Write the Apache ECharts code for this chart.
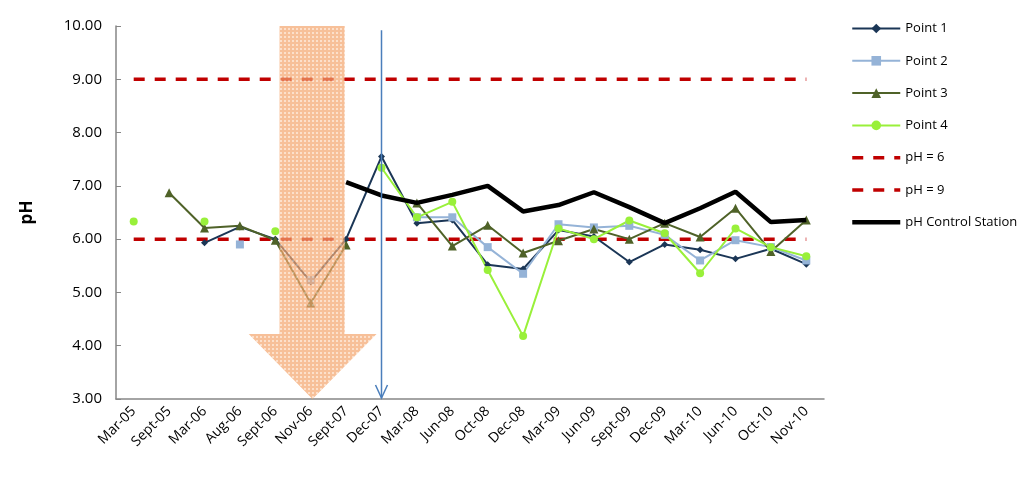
<!DOCTYPE html>
<html>
<head>
<meta charset="utf-8">
<script src="https://cdn.jsdelivr.net/npm/echarts@6/dist/echarts.min.js"></script>
<style>
  html, body {margin: 0; padding: 0; background: #fff;}
  #chart {width: 1024px; height: 478px;}
</style>
</head>
<body>
<div id="chart"></div>
<script>
const categories = ['Mar-05', 'Sept-05', 'Mar-06', 'Aug-06', 'Sept-06', 'Nov-06', 'Sept-07', 'Dec-07',
  'Mar-08', 'Jun-08', 'Oct-08', 'Dec-08', 'Mar-09', 'Jun-09', 'Sept-09', 'Dec-09', 'Mar-10', 'Jun-10',
  'Oct-10', 'Nov-10']

const point1 = [null, null, 5.93, 6.23, 6.0, 5.2, 6.0, 7.55, 6.3, 6.36, 5.52, 5.44, 6.17, 6.05, 5.57, 5.9, 5.8, 5.63, 5.82, 5.53]
const point2 = [null, null, null, 5.9, null, 5.23, null, null, 6.41, 6.41, 5.85, 5.35, 6.28, 6.22, 6.25, 6.08, 5.6, 5.98, 5.85, 5.6]
const point3 = [null, 6.87, 6.21, 6.25, 5.98, 4.8, 5.89, null, 6.68, 5.87, 6.26, 5.74, 5.97, 6.19, 6.0, 6.3, 6.04, 6.58, 5.77, 6.36]
const point4 = [6.33, null, 6.33, null, 6.15, null, null, 7.34, 6.41, 6.7, 5.42, 4.18, 6.2, 6.0, 6.35, 6.11, 5.36, 6.2, 5.85, 5.68]
const control = [null, null, null, null, null, null, 7.07, 6.82, 6.68, 6.83, 7.0, 6.52, 6.64, 6.88, 6.6, 6.3, 6.58, 6.89, 6.32, 6.36]
const limitLow = categories.map(() => 6)
const limitHigh = categories.map(() => 9)

const font = '"Open Sans", "Noto Sans", sans-serif'

const pointSeries = (name, data, color, symbol, size) => ({
  name, type: 'line', data, symbol, symbolSize: size, showAllSymbol: true,
  connectNulls: false, z: 3,
  itemStyle: {color},
  lineStyle: {color, width: 2}
})

const plainSeries = (name, data, color, width, type, z) => ({
  name, type: 'line', data, symbol: 'circle', symbolSize: 0, showSymbol: false, z,
  itemStyle: {color, opacity: 0},
  lineStyle: {color, width, type}
})

const legendNames = ['Point 1', 'Point 2', 'Point 3', 'Point 4', 'pH = 6', 'pH = 9', 'pH Control Station']
const legendWidths = [2, 2, 2, 2, 3.5, 3.5, 4.5]

const chart = echarts.init(document.getElementById('chart'))
chart.setOption({
  animation: false,
  textStyle: {fontFamily: font},
  grid: {left: 116, right: 200, top: 26, bottom: 79},
  legend: {
    orient: 'vertical', left: 845, top: 17,
    itemWidth: 48, itemHeight: 12, itemGap: 19.3,
    textStyle: {fontSize: 13, color: '#000', fontFamily: font},
    data: legendNames.map((name, i) => i < 4 ? name
      : {name, itemStyle: {opacity: 0}, lineStyle: {width: legendWidths[i]}})
  },
  xAxis: {
    type: 'category', data: categories, boundaryGap: true,
    axisLine: {lineStyle: {color: '#868686', width: 1.5}},
    axisTick: {inside: true, length: 5, lineStyle: {color: '#868686'}},
    axisLabel: {rotate: 45, fontSize: 14, color: '#000', margin: 10, interval: 0}
  },
  yAxis: {
    type: 'value', min: 3, max: 10, interval: 1,
    name: 'pH', nameLocation: 'middle', nameGap: 80, nameRotate: 90,
    nameTextStyle: {fontSize: 17, fontWeight: 'bold', color: '#000'},
    splitLine: {show: false},
    axisLine: {show: true, lineStyle: {color: '#868686', width: 1.5}},
    axisTick: {show: true, inside: true, length: 5, lineStyle: {color: '#868686'}},
    axisLabel: {fontSize: 15, color: '#000', margin: 14, formatter: v => v.toFixed(2)}
  },
  series: [
    pointSeries('Point 1', point1, '#1b3656', 'diamond', 7),
    pointSeries('Point 2', point2, '#95b3d7', 'rect', 8),
    pointSeries('Point 3', point3, '#4f6228', 'triangle', 9),
    pointSeries('Point 4', point4, '#99f03a', 'circle', 8),
    plainSeries('pH = 6', limitLow, '#c00000', 3.5, [11, 10], 2),
    plainSeries('pH = 9', limitHigh, '#c00000', 3.5, [11, 10], 2),
    plainSeries('pH Control Station', control, '#000', 4.5, 'solid', 4)
  ]
})

// annotation arrows, placed through the chart's own scales
const x0 = chart.convertToPixel({xAxisIndex: 0}, 0)
const x1 = chart.convertToPixel({xAxisIndex: 0}, 1)
const px = i => x0 + i * (x1 - x0)
const py = v => chart.convertToPixel({yAxisIndex: 0}, v)

const dots = document.createElement('canvas')
dots.width = 4
dots.height = 4
const ctx = dots.getContext('2d')
ctx.fillStyle = '#f4a66e'
ctx.fillRect(0, 0, 4, 4)
ctx.fillStyle = '#fbd3b6'
ctx.fillRect(0, 0, 2, 2)

const decX = px(categories.indexOf('Dec-07'))
const baseY = py(3)

chart.setOption({
  graphic: [
    {
      type: 'polygon', z: 100, silent: true,
      shape: {points: [
        [px(4.12), py(10)], [px(5.96), py(10)], [px(5.96), py(4.22)], [px(6.86), py(4.22)],
        [px(5.05), baseY], [px(3.25), py(4.22)], [px(4.12), py(4.22)]
      ]},
      style: {fill: {image: dots, repeat: 'repeat'}, opacity: 0.7}
    },
    {
      type: 'line', z: 101, silent: true,
      shape: {x1: decX, y1: py(9.92), x2: decX, y2: baseY - 1},
      style: {stroke: '#4a7ebb', lineWidth: 1.5}
    },
    {
      type: 'polyline', z: 101, silent: true,
      shape: {points: [[decX - 6, baseY - 14], [decX, baseY - 1], [decX + 6, baseY - 14]]},
      style: {stroke: '#4a7ebb', lineWidth: 1.5, fill: null}
    }
  ]
})
</script>
</body>
</html>
